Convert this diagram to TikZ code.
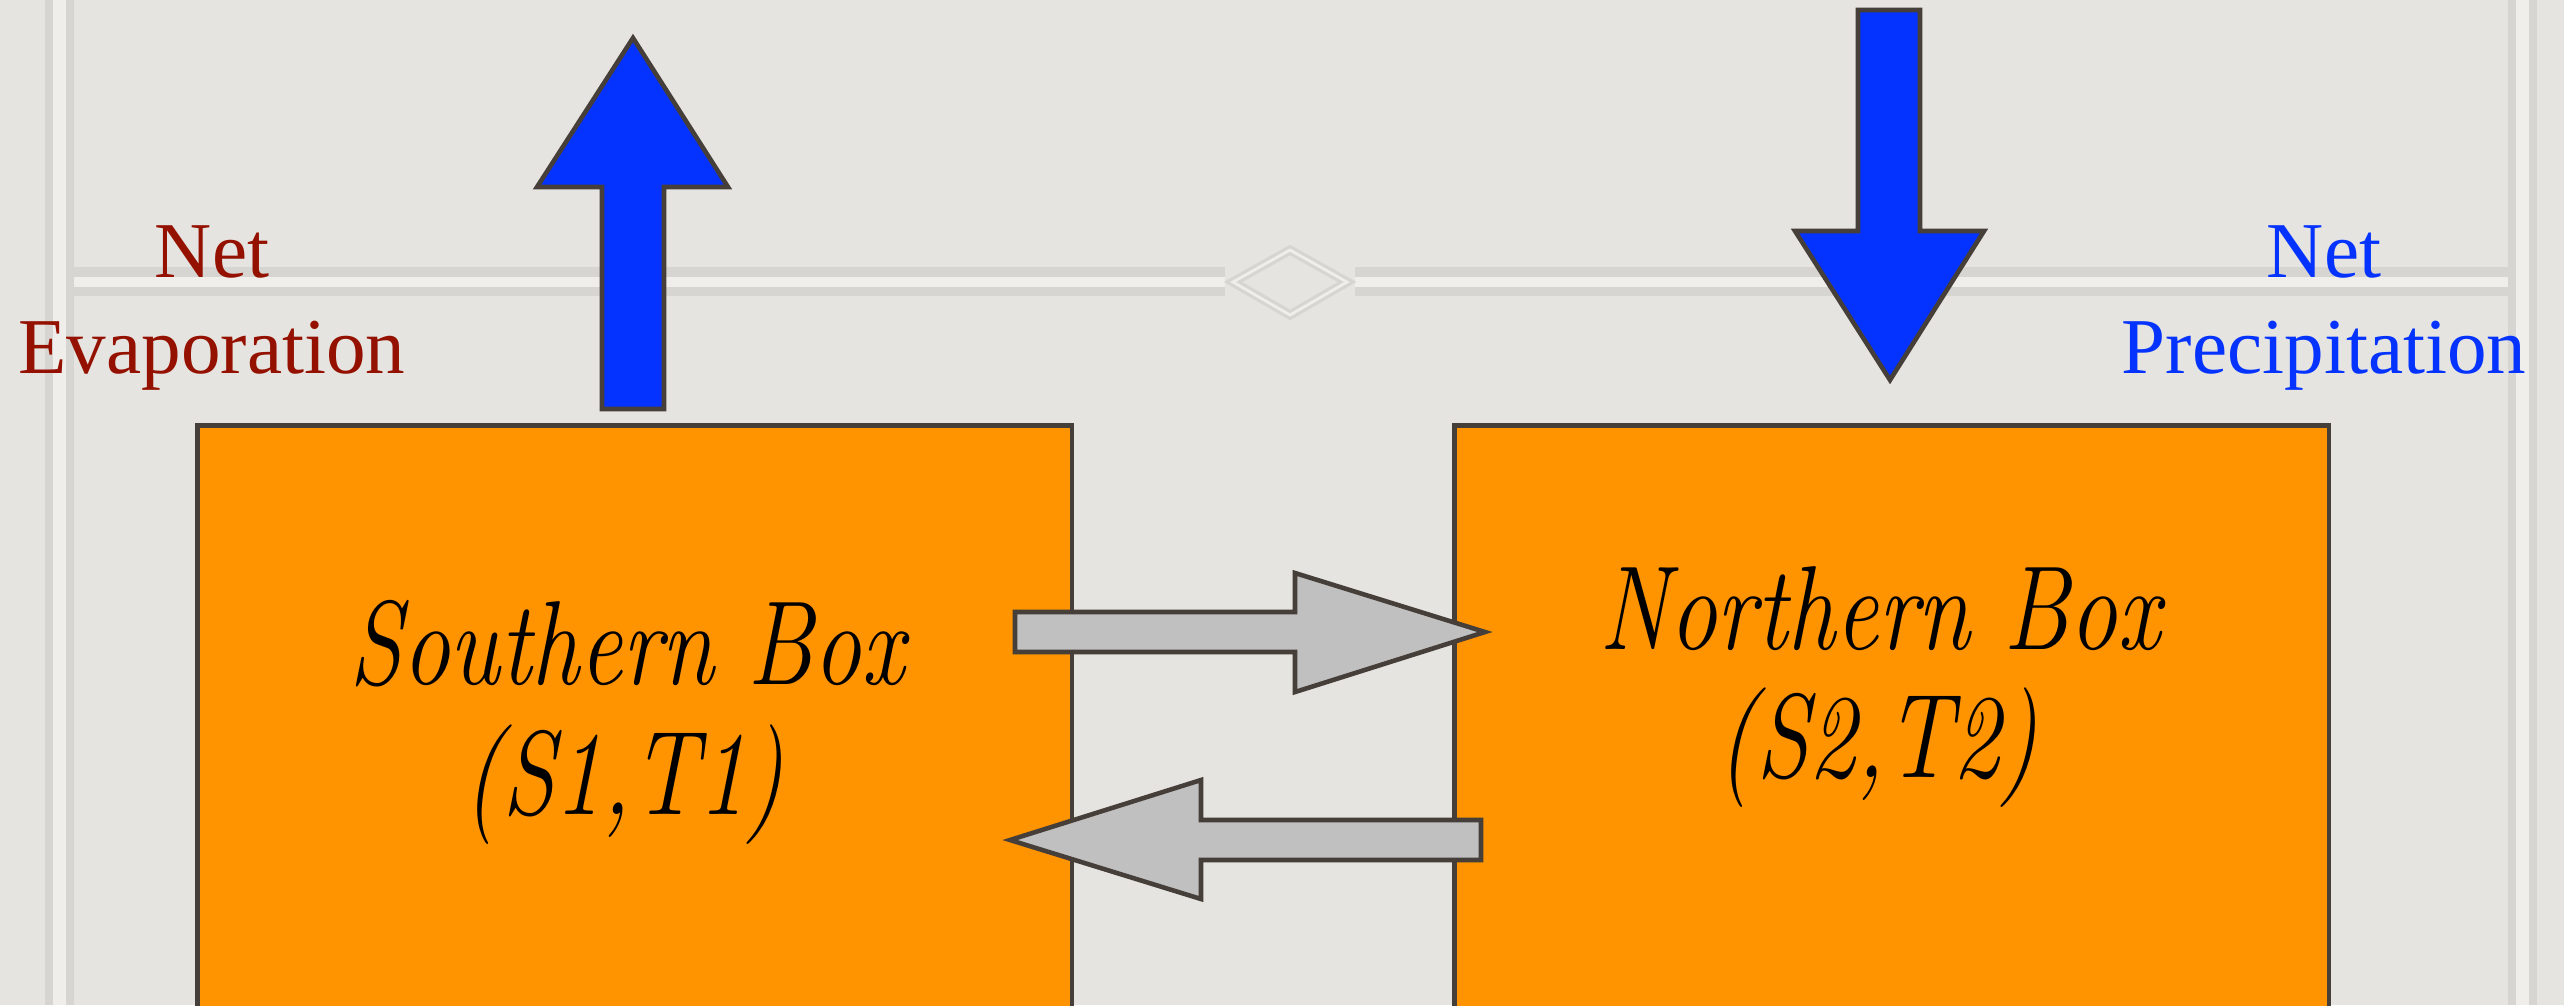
\documentclass[tikz,border=0pt]{standalone}
\usepackage{fontspec}
\usepackage{graphicx}
\newfontfamily\labelfont{Liberation Serif}
\definecolor{bgcol}{HTML}{E5E4E0}
\definecolor{framedark}{HTML}{D6D5D1}
\definecolor{framelight}{HTML}{EFEEEB}
\definecolor{boxorange}{HTML}{FF9300}
\definecolor{edgecol}{HTML}{463E39}
\definecolor{flowblue}{HTML}{0433FF}
\definecolor{flowgray}{HTML}{C0C0C0}
\definecolor{evapred}{HTML}{941100}
\tikzset{
  basinbox/.style={draw=edgecol, fill=boxorange, line width=1.4pt, minimum width=8.74cm, minimum height=6.2cm, anchor=north west, inner sep=0pt},
  bluearrow/.style={draw=edgecol, fill=flowblue, line width=1.3pt, line join=miter},
  grayarrow/.style={draw=edgecol, fill=flowgray, line width=1.3pt, line join=miter},
  boxlabel/.style={anchor=base, inner sep=0pt, font=\fontsize{34}{40}\selectfont\itshape},
  sidelabel/.style={anchor=base, inner sep=0pt, font=\labelfont\fontsize{22.5}{27}\selectfont}
}
\begin{document}
\begin{tikzpicture}[x=0.01cm,y=-0.01cm]
\useasboundingbox (0,0) rectangle (2564,1005);
\clip (0,0) rectangle (2564,1005);
% background and faint frame
\fill[bgcol] (0,0) rectangle (2564,1005);
\fill[framedark] (45,0) rectangle (74,1005);
\fill[framelight] (53,0) rectangle (66,1005);
\fill[framedark] (2508,0) rectangle (2537,1005);
\fill[framelight] (2516,0) rectangle (2529,1005);
\fill[framedark] (74,267) rectangle (1225,296);
\fill[framelight] (74,277) rectangle (1225,287);
\fill[framedark] (1355,267) rectangle (2508,296);
\fill[framelight] (1355,277) rectangle (2508,287);
\draw[framedark, line width=2.6pt] (1233,282) -- (1290,250) -- (1347,282) -- (1290,315) -- cycle;
\draw[framelight, line width=0.8pt] (1233,282) -- (1290,250) -- (1347,282) -- (1290,315) -- cycle;

% boxes
\node[basinbox] (south) at (195,423) {};
\node[basinbox] (north) at (1452,423) {};

% vertical flux arrows
\coordinate (evapbase) at (633,409);
\coordinate (evaptip) at (633,38);
\draw[bluearrow] (602,409) -- (602,187) -- (537,187) -- (evaptip) -- (728,187) -- (664,187) -- (664,409) -- cycle;
\coordinate (preciptop) at (1889,10);
\coordinate (preciptip) at (1890,380);
\draw[bluearrow] (1858,10) -- (1920,10) -- (1920,231) -- (1984,231) -- (preciptip) -- (1795,231) -- (1858,231) -- cycle;

% exchange arrows
\coordinate (eastTip) at (1485,632);
\draw[grayarrow] (1015,612) -- (1295,612) -- (1295,573) -- (eastTip) -- (1295,692) -- (1295,652) -- (1015,652) -- cycle;
\coordinate (westTip) at (1010,840);
\draw[grayarrow] (1481,820) -- (1201,820) -- (1201,780) -- (westTip) -- (1201,899) -- (1201,860) -- (1481,860) -- cycle;

% box labels
\node[boxlabel] (s1) at (627,684) {\scalebox{0.8}[1]{Southern Box}};
\node[boxlabel] (s2) at (624,814) {\scalebox{0.8}[1]{(S1,T1)}};
\node[boxlabel] (n1) at (1880,649) {\scalebox{0.8}[1]{Northern Box}};
\node[boxlabel] (n2) at (1878,777) {\scalebox{0.8}[1]{(S2,T2)}};

% side labels
\node[sidelabel, text=evapred] (e1) at (212,277) {Net};
\node[sidelabel, text=evapred] (e2) at (212,373) {Evaporation};
\node[sidelabel, text=flowblue] (p1) at (2324,277) {Net};
\node[sidelabel, text=flowblue] (p2) at (2324,373) {Precipitation};
\end{tikzpicture}
\end{document}
